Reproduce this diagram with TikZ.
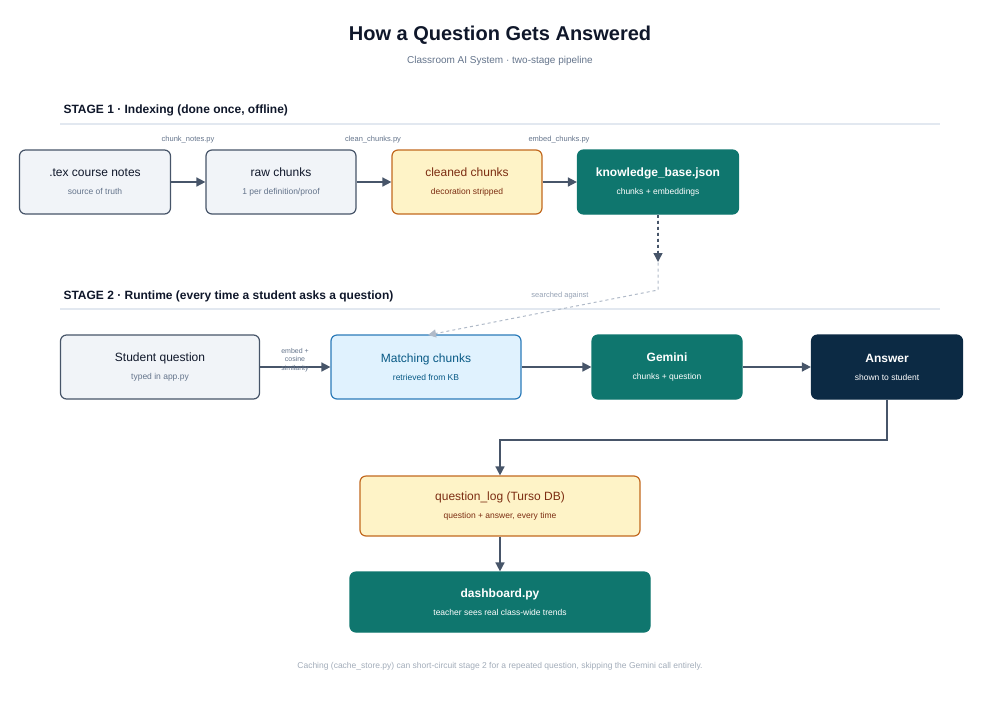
\documentclass[tikz,border=0pt]{standalone}
\usepackage{fontspec}
\setmainfont{Liberation Sans}
\usetikzlibrary{positioning, arrows.meta}
\definecolor{ink}{HTML}{0F172A}
\definecolor{slate}{HTML}{475569}
\definecolor{mute}{HTML}{64748B}
\definecolor{rulec}{HTML}{E2E8F0}
\definecolor{grayfill}{HTML}{F1F4F8}
\definecolor{amberfill}{HTML}{FEF3C7}
\definecolor{amberline}{HTML}{C2691F}
\definecolor{ambertext}{HTML}{7C2D12}
\definecolor{bluefill}{HTML}{E0F2FE}
\definecolor{blueline}{HTML}{2B7BB9}
\definecolor{bluetext}{HTML}{075985}
\definecolor{teal}{HTML}{0F766E}
\definecolor{navy}{HTML}{0C2A44}
\tikzset{
box/.style={draw, rounded corners=6pt, line width=1.2pt, align=center, inner sep=0pt},
plain/.style={box, draw=slate, fill=grayfill, text=ink},
amber/.style={box, draw=amberline, fill=amberfill, text=ambertext},
blue/.style={box, draw=blueline, fill=bluefill, text=bluetext},
dark/.style={box, draw=teal, fill=teal, text=white},
night/.style={box, draw=navy, fill=navy, text=white},
flow/.style={draw=slate, line width=1.6pt, -{Triangle[length=9pt,width=9pt]}},
script/.style={font=\fontsize{7.5}{9}\selectfont, text=mute},
heading/.style={font=\fontsize{12}{14}\selectfont\bfseries, text=ink, anchor=west},
}
\newcommand{\boxtext}[2]{{\fontsize{12}{14}\selectfont #1}\\[6pt]{\fontsize{8.5}{10}\selectfont #2}}
\begin{document}
\begin{tikzpicture}[x=1pt,y=-1pt]
    \useasboundingbox (0,0) rectangle (1000,710);

    %titles
    \node[font=\fontsize{20}{24}\selectfont\bfseries, text=ink] (title) at (500,35) {How a Question Gets Answered};
    \node[font=\fontsize{10}{12}\selectfont, text=mute] (subtitle) at (500,61) {Classroom AI System · two-stage pipeline};

    %stage 1
    \node[heading] (stage1) at (60,110) {STAGE 1 · Indexing (done once, offline)};
    \draw[rulec, line width=1.5pt] (60,124) -- (940,124);
    \node[plain, minimum width=151pt, minimum height=64pt] (notes) at (95,182) {\boxtext{.tex course notes}{\color{mute}source of truth}};
    \node[plain, minimum width=150pt, minimum height=64pt] (raw) at (281,182) {\boxtext{raw chunks}{\color{mute}1 per definition/proof}};
    \node[amber, minimum width=150pt, minimum height=64pt] (clean) at (467,182) {\boxtext{cleaned chunks}{decoration stripped}};
    \node[dark, minimum width=161pt, minimum height=64pt] (kb) at (658,182) {\boxtext{\bfseries knowledge\_base.json}{chunks + embeddings}};
    \node[script] (s1) at (188,140) {chunk\_notes.py};
    \node[script] (s2) at (373,140) {clean\_chunks.py};
    \node[script] (s3) at (559,140) {embed\_chunks.py};
    \draw[flow] (notes) -- (raw);
    \draw[flow] (raw) -- (clean);
    \draw[flow] (clean) -- (kb);

    %stage 2
    \node[heading] (stage2) at (60,296) {STAGE 2 · Runtime (every time a student asks a question)};
    \draw[rulec, line width=1.5pt] (60,309) -- (940,309);
    \node[plain, minimum width=199pt, minimum height=64pt] (student) at (160,367) {\boxtext{Student question}{\color{mute}typed in app.py}};
    \node[blue, minimum width=190pt, minimum height=64pt] (match) at (426,367) {\boxtext{Matching chunks}{retrieved from KB}};
    \node[dark, minimum width=150pt, minimum height=64pt] (gemini) at (667,367) {\boxtext{\bfseries Gemini}{chunks + question}};
    \node[night, minimum width=151pt, minimum height=64pt] (answer) at (887,367) {\boxtext{\bfseries Answer}{shown to student}};
    \node[plain, draw=amberline, fill=amberfill, text=ambertext, minimum width=280pt, minimum height=60pt] (log) at (500,506) {\boxtext{question\_log (Turso DB)}{question + answer, every time}};
    \node[dark, minimum width=300pt, minimum height=60pt] (dash) at (500,602) {\boxtext{\bfseries dashboard.py}{teacher sees real class-wide trends}};

    \draw[flow] (student) -- (match);
    \node[script, align=center, font=\fontsize{7}{8.5}\selectfont] (cosine) at (295,360) {embed +\\cosine\\similarity};
    \draw[flow] (match) -- (gemini);
    \draw[flow] (gemini) -- (answer);
    \draw[flow] (answer.south) |- (500,440) -- (log.north);
    \draw[flow] (log) -- (dash);

    %lookup
    \coordinate (bend) at (658,290);
    \draw[draw=rulec!60!mute, line width=1pt, dashed, -{Triangle[length=8pt,width=8pt]}] (kb.south) -- (bend) -- (428,335);
    \draw[flow, line width=1.4pt, dashed] (kb.south) -- (658,262);
    \node[script, text=rulec!40!mute] (searched) at (560,296) {searched against};

    %footer
    \node[font=\fontsize{8.5}{10}\selectfont, text=mute!60] (foot) at (500,666) {Caching (cache\_store.py) can short-circuit stage 2 for a repeated question, skipping the Gemini call entirely.};
\end{tikzpicture}
\end{document}
